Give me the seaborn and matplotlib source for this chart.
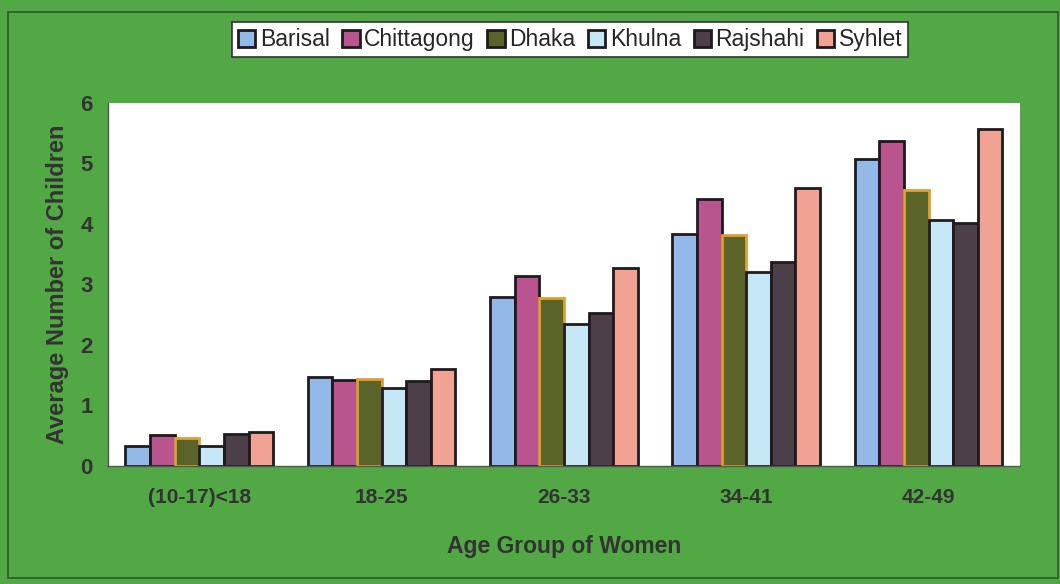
import pandas as pd
import matplotlib.pyplot as plt
import seaborn as sns
from matplotlib.patches import Rectangle
from matplotlib.ticker import FixedLocator

age_groups = ['(10-17)<18', '18-25', '26-33', '34-41', '42-49']
divisions = ['Barisal', 'Chittagong', 'Dhaka', 'Khulna', 'Rajshahi', 'Syhlet']

barisal = [0.33, 1.47, 2.79, 3.83, 5.07]
chittagong = [0.51, 1.42, 3.14, 4.41, 5.37]
dhaka = [0.46, 1.44, 2.78, 3.82, 4.56]
khulna = [0.33, 1.29, 2.35, 3.21, 4.07]
rajshahi = [0.53, 1.40, 2.53, 3.37, 4.02]
syhlet = [0.56, 1.60, 3.27, 4.60, 5.57]

colors = ['#93b9e8', '#b9548f', '#5a6428', '#c4e6f5', '#4d3f4a', '#f2a292']

df = pd.DataFrame({'Barisal': barisal, 'Chittagong': chittagong, 'Dhaka': dhaka,
                   'Khulna': khulna, 'Rajshahi': rajshahi, 'Syhlet': syhlet})
df['Age'] = age_groups
long_df = df.melt(id_vars='Age', var_name='Division', value_name='Children')

sns.set_style('white')
plt.rcParams['font.family'] = ['Liberation Sans', 'DejaVu Sans']

fig = plt.figure(figsize=(10.6, 5.84), dpi=100, facecolor='#52a844')
ax = fig.add_axes([0.102, 0.202, 0.86, 0.622])
ax.set_facecolor('white')

sns.barplot(data=long_df, x='Age', y='Children', hue='Division', hue_order=divisions,
            palette=colors, saturation=1, width=0.81, edgecolor='#1e1a1e', linewidth=2, ax=ax)

# Dhaka bars have an orange outline
for bar in ax.containers[2]:
    bar.set_edgecolor('#e0a030')

ax.set_ylim(0, 6)
ax.set_xlim(-0.5, 4.5)
ax.set_yticks(range(7))
ax.tick_params(axis='y', direction='out', length=5, width=1, color='#555555',
               labelsize=16, labelcolor='#333333', pad=6)
ax.tick_params(axis='x', which='major', length=0, labelsize=15, labelcolor='#333333', pad=16)
ax.xaxis.set_minor_locator(FixedLocator([-0.5, 0.5, 1.5, 2.5, 3.5, 4.5]))
ax.tick_params(axis='x', which='minor', direction='out', length=5, width=1, color='#555555')
for lab in ax.get_xticklabels() + ax.get_yticklabels():
    lab.set_fontweight('bold')

for side in ['top', 'right']:
    ax.spines[side].set_visible(False)
for side in ['left', 'bottom']:
    ax.spines[side].set_color('#555555')
    ax.spines[side].set_linewidth(1)

ax.set_xlabel('Age Group of Women', fontsize=16.5, fontweight='bold', color='#333333', labelpad=20)
ax.set_ylabel('Average Number of Children', fontsize=17, fontweight='bold', color='#333333', labelpad=8)

handles, labels = ax.get_legend_handles_labels()
ax.legend_.remove()
leg = fig.legend(handles, labels, loc='center', bbox_to_anchor=(0.538, 0.932), ncol=6,
                 frameon=True, fancybox=False, framealpha=1, fontsize=16.5,
                 handlelength=0.75, handleheight=0.75,
                 handletextpad=0.2, columnspacing=0.55, borderpad=0.25)
leg.get_frame().set_edgecolor('#333333')
leg.get_frame().set_facecolor('white')
leg.get_frame().set_linewidth(1.2)

fig.patches.append(Rectangle((0.008, 0.01), 0.99, 0.97, transform=fig.transFigure,
                             fill=False, edgecolor='#2e5a2a', linewidth=1.2))

fig.savefig('out.png', dpi=100, facecolor=fig.get_facecolor())
